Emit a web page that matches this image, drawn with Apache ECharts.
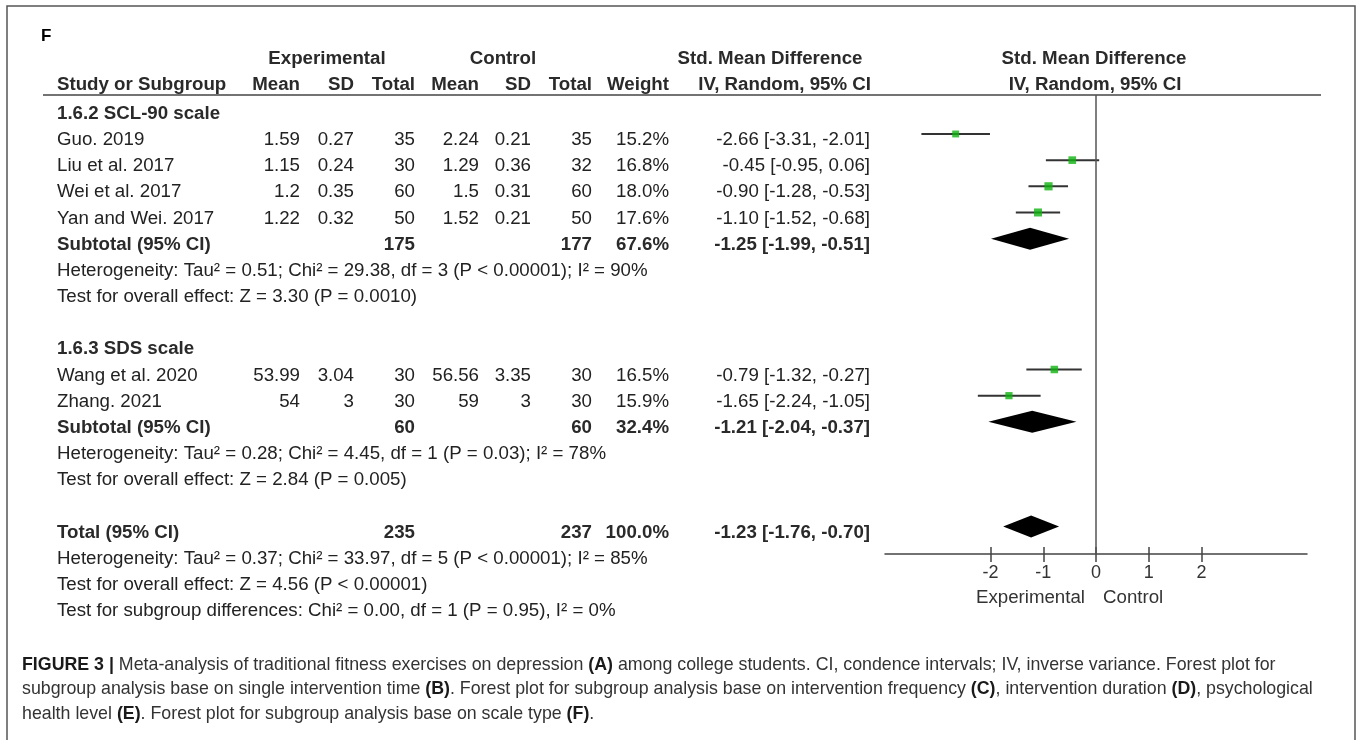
<!DOCTYPE html>
<html>
<head>
<meta charset="utf-8">
<script src="https://cdn.jsdelivr.net/npm/echarts@6/dist/echarts.min.js"></script>
<style>
  html, body { margin: 0; padding: 0; background: #fff; }
  #main { width: 1357px; height: 740px; }
</style>
</head>
<body>
<div id="main"></div>
<script>
// studies (one entry per row of the forest plot)
const studyNames = ['Guo. 2019', 'Liu et al. 2017', 'Wei et al. 2017', 'Yan and Wei. 2017', 'Wang et al. 2020', 'Zhang. 2021']
const studyRows = [1, 2, 3, 4, 10, 11]
const expMean = ['1.59', '1.15', '1.2', '1.22', '53.99', '54']
const expSD = ['0.27', '0.24', '0.35', '0.32', '3.04', '3']
const expTotal = [35, 30, 60, 50, 30, 30]
const ctrlMean = ['2.24', '1.29', '1.5', '1.52', '56.56', '59']
const ctrlSD = ['0.21', '0.36', '0.31', '0.21', '3.35', '3']
const ctrlTotal = [35, 32, 60, 50, 30, 30]
const weights = [15.2, 16.8, 18.0, 17.6, 16.5, 15.9]
const smd = [-2.66, -0.45, -0.90, -1.10, -0.79, -1.65]
const ciLow = [-3.31, -0.95, -1.28, -1.52, -1.32, -2.24]
const ciHigh = [-2.01, 0.06, -0.53, -0.68, -0.27, -1.05]

// pooled estimates (subtotals and total)
const pooledNames = ['Subtotal (95% CI)', 'Subtotal (95% CI)', 'Total (95% CI)']
const pooledRows = [5, 12, 16]
const pooledExpTotal = [175, 60, 235]
const pooledCtrlTotal = [177, 60, 237]
const pooledWeight = [67.6, 32.4, 100.0]
const pooledSmd = [-1.25, -1.21, -1.23]
const pooledLow = [-1.99, -2.04, -1.76]
const pooledHigh = [-0.51, -0.37, -0.70]

// subgroup headings and statistics lines
const groupNames = ['1.6.2 SCL-90 scale', '1.6.3 SDS scale']
const groupRows = [0, 9]
const noteLines = [
  'Heterogeneity: Tau² = 0.51; Chi² = 29.38, df = 3 (P < 0.00001); I² = 90%',
  'Test for overall effect: Z = 3.30 (P = 0.0010)',
  'Heterogeneity: Tau² = 0.28; Chi² = 4.45, df = 1 (P = 0.03); I² = 78%',
  'Test for overall effect: Z = 2.84 (P = 0.005)',
  'Heterogeneity: Tau² = 0.37; Chi² = 33.97, df = 5 (P < 0.00001); I² = 85%',
  'Test for overall effect: Z = 4.56 (P < 0.00001)',
  'Test for subgroup differences: Chi² = 0.00, df = 1 (P = 0.95), I² = 0%'
]
const noteRows = [6, 7, 13, 14, 17, 18, 19]
const xTicks = [-2, -1, 0, 1, 2]

const captionLines = [
  '{b|FIGURE 3 |} Meta-analysis of traditional fitness exercises on depression {b|(A)} among college students. CI, condence intervals; IV, inverse variance. Forest plot for',
  'subgroup analysis base on single intervention time {b|(B)}. Forest plot for subgroup analysis base on intervention frequency {b|(C)}, intervention duration {b|(D)}, psychological',
  'health level {b|(E)}. Forest plot for subgroup analysis base on scale type {b|(F)}.'
]

const FONT = '"Liberation Sans", Arial, sans-serif'
const FS = 18.7
const INK = '#222'

const chart = echarts.init(document.getElementById('main'))

const fmtCI = (e, l, h) => `${e.toFixed(2)} [${l.toFixed(2)}, ${h.toFixed(2)}]`

chart.setOption({
  animation: false,
  grid: { left: 885, right: 50, top: 95, bottom: 186 },
  xAxis: [
    {
      type: 'value', min: -4, max: 4, position: 'bottom',
      axisLine: { show: true, onZero: false, lineStyle: { color: '#444', width: 1.5 } },
      axisTick: { show: true, customValues: xTicks, length: 8, lineStyle: { color: '#444', width: 1.5 } },
      axisLabel: { customValues: xTicks, margin: 10, color: '#333', fontSize: 18, fontFamily: FONT },
      splitLine: { show: false }
    },
    {
      type: 'value', min: -4, max: 4, position: 'bottom',
      axisLine: { show: false, onZero: false },
      axisTick: { show: true, inside: true, customValues: xTicks, length: 7, lineStyle: { color: '#444', width: 1.5 } },
      axisLabel: { show: false },
      splitLine: { show: false }
    }
  ],
  yAxis: { type: 'value', min: -0.489, max: 17.05, inverse: true, show: false },
  series: [
    {
      // confidence interval whiskers
      type: 'custom',
      data: studyRows.map((r, i) => [ciLow[i], ciHigh[i], r]),
      encode: { x: [0, 1], y: 2 },
      renderItem: (params, api) => {
        const a = api.coord([api.value(0), api.value(2)])
        const b = api.coord([api.value(1), api.value(2)])
        return {
          type: 'line',
          shape: { x1: a[0], y1: a[1], x2: b[0], y2: b[1] },
          style: { stroke: '#333', lineWidth: 2 }
        }
      }
    },
    {
      // study point estimates, box sized by weight
      type: 'scatter',
      symbol: 'rect',
      data: studyRows.map((r, i) => [smd[i], r, weights[i]]),
      symbolSize: v => v[2] / 2.2,
      itemStyle: { color: '#0fb30f' },
      z: 3,
      markLine: {
        silent: true,
        symbol: 'none',
        label: { show: false },
        lineStyle: { color: '#555', width: 1.5, type: 'solid' },
        data: [{ xAxis: 0 }]
      }
    },
    {
      // pooled diamonds
      type: 'custom',
      data: pooledRows.map((r, i) => [pooledLow[i], pooledHigh[i], pooledSmd[i], r]),
      encode: { x: [0, 1, 2], y: 3 },
      renderItem: (params, api) => {
        const row = api.value(3)
        const l = api.coord([api.value(0), row])
        const h = api.coord([api.value(1), row])
        const m = api.coord([api.value(2), row])
        const hh = 11
        return {
          type: 'polygon',
          shape: { points: [[l[0], l[1]], [m[0], m[1] - hh], [h[0], h[1]], [m[0], m[1] + hh]] },
          style: { fill: '#000' }
        }
      }
    }
  ]
})

// table text, placed on the same rows as the plot marks
const rowY = r => chart.convertToPixel({ yAxisIndex: 0 }, r) + 6
const zeroX = chart.convertToPixel({ xAxisIndex: 0 }, 0)
const axisY = chart.convertToPixel({ yAxisIndex: 0 }, 17.05)

function txt(x, y, s, align, bold, color) {
  return {
    type: 'text', x: x, y: y, silent: true,
    style: {
      text: String(s), fill: color || (bold ? '#2a2a2a' : INK), fontSize: FS, fontFamily: FONT,
      fontWeight: bold ? 'bold' : 'normal', align: align || 'left', verticalAlign: 'middle'
    }
  }
}

const col = { name: 57, expMean: 300, expSD: 354, expTotal: 415, ctrlMean: 479, ctrlSD: 531, ctrlTotal: 592, weight: 669, ci: 870 }
const g = []

// frame and header rule
g.push({ type: 'rect', shape: { x: 7, y: 6, width: 1348, height: 760 }, style: { fill: 'none', stroke: '#555', lineWidth: 1.5 }, silent: true })
g.push({ type: 'line', shape: { x1: 43, y1: 95, x2: 1321, y2: 95 }, style: { stroke: '#444', lineWidth: 1.5 }, silent: true })

g.push({ type: 'text', x: 41, y: 36, style: { text: 'F', fill: '#000', fontSize: 17, fontWeight: 'bold', fontFamily: FONT, verticalAlign: 'middle' } })

// column headers
const h1 = 59, h2 = 85
g.push(txt(327, h1, 'Experimental', 'center', true))
g.push(txt(503, h1, 'Control', 'center', true))
g.push(txt(770, h1, 'Std. Mean Difference', 'center', true))
g.push(txt(zeroX - 2, h1, 'Std. Mean Difference', 'center', true))
g.push(txt(col.name, h2, 'Study or Subgroup', 'left', true))
g.push(txt(col.expMean, h2, 'Mean', 'right', true))
g.push(txt(col.expSD, h2, 'SD', 'right', true))
g.push(txt(col.expTotal, h2, 'Total', 'right', true))
g.push(txt(col.ctrlMean, h2, 'Mean', 'right', true))
g.push(txt(col.ctrlSD, h2, 'SD', 'right', true))
g.push(txt(col.ctrlTotal, h2, 'Total', 'right', true))
g.push(txt(col.weight, h2, 'Weight', 'right', true))
g.push(txt(col.ci + 1, h2, 'IV, Random, 95% CI', 'right', true))
g.push(txt(zeroX - 1, h2, 'IV, Random, 95% CI', 'center', true))

groupNames.forEach((s, i) => g.push(txt(col.name, rowY(groupRows[i]), s, 'left', true)))

studyNames.forEach((s, i) => {
  const y = rowY(studyRows[i])
  g.push(txt(col.name, y, s, 'left'))
  g.push(txt(col.expMean, y, expMean[i], 'right'))
  g.push(txt(col.expSD, y, expSD[i], 'right'))
  g.push(txt(col.expTotal, y, expTotal[i], 'right'))
  g.push(txt(col.ctrlMean, y, ctrlMean[i], 'right'))
  g.push(txt(col.ctrlSD, y, ctrlSD[i], 'right'))
  g.push(txt(col.ctrlTotal, y, ctrlTotal[i], 'right'))
  g.push(txt(col.weight, y, weights[i].toFixed(1) + '%', 'right'))
  g.push(txt(col.ci, y, fmtCI(smd[i], ciLow[i], ciHigh[i]), 'right'))
})

pooledNames.forEach((s, i) => {
  const y = rowY(pooledRows[i])
  g.push(txt(col.name, y, s, 'left', true))
  g.push(txt(col.expTotal, y, pooledExpTotal[i], 'right', true))
  g.push(txt(col.ctrlTotal, y, pooledCtrlTotal[i], 'right', true))
  g.push(txt(col.weight, y, pooledWeight[i].toFixed(1) + '%', 'right', true))
  g.push(txt(col.ci, y, fmtCI(pooledSmd[i], pooledLow[i], pooledHigh[i]), 'right', true))
})

noteLines.forEach((s, i) => g.push(txt(col.name, rowY(noteRows[i]), s, 'left')))

// favours labels under the axis
g.push(txt(zeroX - 11, axisY + 44, 'Experimental', 'right', false, '#333'))
g.push(txt(zeroX + 7, axisY + 44, 'Control', 'left', false, '#333'))

// figure caption
captionLines.forEach((s, i) => {
  g.push({
    type: 'text', x: 22, y: 665 + i * 24.5, silent: true,
    style: {
      text: s, fill: '#333', fontSize: 17.8, fontFamily: FONT, verticalAlign: 'middle',
      rich: { b: { fontWeight: 'bold', fill: '#1a1a1a', fontSize: 17.8, fontFamily: FONT } }
    }
  })
})

chart.setOption({ graphic: { elements: g } })
</script>
</body>
</html>
